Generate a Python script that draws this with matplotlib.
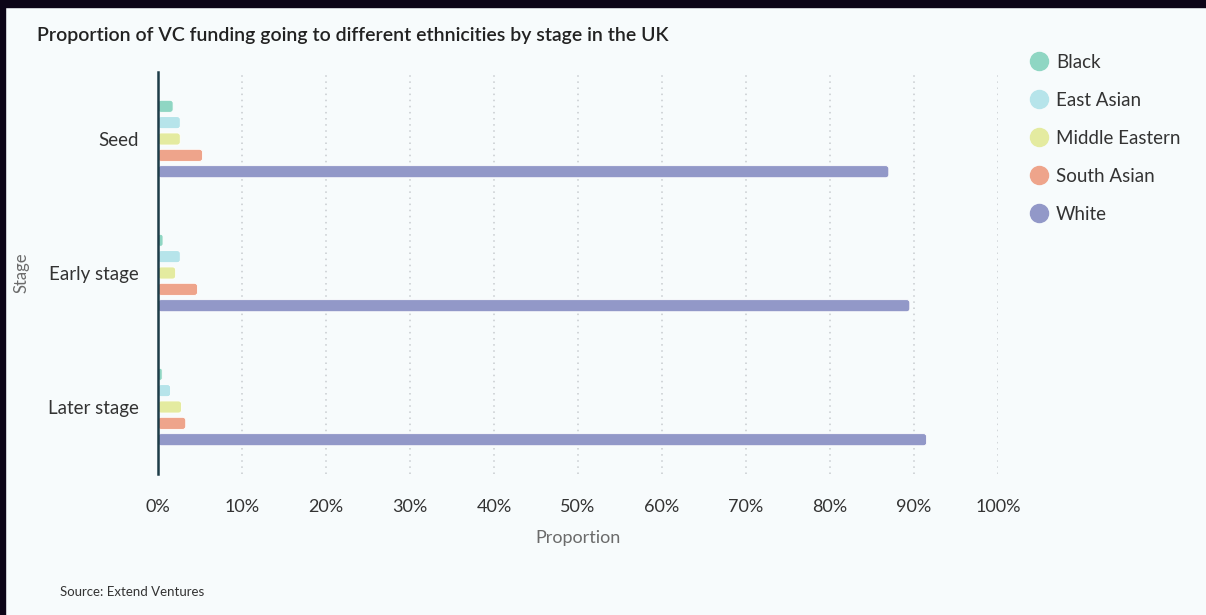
import matplotlib
matplotlib.use("Agg")
import matplotlib.pyplot as plt
from matplotlib.patches import FancyBboxPatch, Rectangle
from matplotlib.lines import Line2D
import numpy as np

# data (percent)
stages = ["Seed", "Early stage", "Later stage"]
groups = ["Black", "East Asian", "Middle Eastern", "South Asian", "White"]
black = [1.8, 0.6, 0.5]
east_asian = [2.65, 2.65, 1.5]
middle_eastern = [2.65, 2.1, 2.8]
south_asian = [5.3, 4.7, 3.3]
white = [87.0, 89.5, 91.5]
colors = ["#8fd6c3", "#b6e4ea", "#e4eba0", "#eea48b", "#9298c8"]

series = [black, east_asian, middle_eastern, south_asian, white]

bg = "#f7fbfc"
plt.rcParams["font.family"] = ["Lato", "DejaVu Sans"]

fig = plt.figure(figsize=(12.06, 6.15), dpi=100)
fig.patch.set_facecolor(bg)
ax = fig.add_axes([158 / 1206, 1 - 474 / 615, 840 / 1206, 402 / 615])
ax.set_facecolor(bg)

# dark frame around the panel (top and left)
fig.patches.append(Rectangle((0, 1 - 7 / 615), 1, 7 / 615, transform=fig.transFigure,
                             color="#0c0517", zorder=10))
fig.patches.append(Rectangle((0, 0), 5 / 1206, 1, transform=fig.transFigure,
                             color="#0c0517", zorder=10))

y = np.arange(len(stages))
step = 0.122
bar_h = 0.09
for i, (vals, c) in enumerate(zip(series, colors)):
    bars = ax.barh(y + (i - 2) * step, vals, height=bar_h, color=c, zorder=3)
    # swap for rounded bars
    for b in bars:
        b.set_visible(False)
        w = b.get_width()
        r = min(0.36, w / 2)
        fb = FancyBboxPatch((b.get_x(), b.get_y()), w, b.get_height(),
                            boxstyle=f"round,pad=0,rounding_size={r}",
                            mutation_aspect=0.06, facecolor=c,
                            edgecolor="white", linewidth=0.6, zorder=3)
        ax.add_patch(fb)

ax.set_xlim(0, 100)
ax.set_ylim(2.5, -0.5)
ax.set_xticks(np.arange(0, 101, 10))
ax.set_xticklabels([f"{v}%" for v in range(0, 101, 10)])
ax.set_yticks(y)
ax.set_yticklabels(stages)
ax.tick_params(axis="x", length=0, pad=18, labelsize=13, labelcolor="#333333")
ax.tick_params(axis="y", length=0, pad=14, labelsize=13.5, labelcolor="#333333")

for v in range(10, 101, 10):
    ax.axvline(v, color="#c8cccf", linestyle=(0, (1, 3)), linewidth=1.1, zorder=1)

for s in ["top", "right", "bottom"]:
    ax.spines[s].set_visible(False)
ax.spines["left"].set_color("#1d3c48")
ax.spines["left"].set_linewidth(1.8)
ax.spines["left"].set_zorder(5)

ax.set_xlabel("Proportion", fontsize=13, color="#6b6b6b", labelpad=11)
ax.set_ylabel("Stage", fontsize=12, color="#6b6b6b", labelpad=13)

handles = [Line2D([], [], marker="o", linestyle="none", markersize=13,
                  markerfacecolor=c, markeredgecolor=c) for c in colors]
fig.legend(handles, groups, loc="upper left", bbox_to_anchor=(1011 / 1206, 1 - 37 / 615),
           frameon=False, fontsize=13.5, labelspacing=1.12, handletextpad=0.3,
           handlelength=1.2, labelcolor="#333333")

fig.text(37 / 1206, 1 - 36 / 615, "Proportion of VC funding going to different ethnicities by stage in the UK",
         fontsize=14, fontweight="semibold", color="#222222", va="center")
fig.text(60 / 1206, 1 - 592 / 615, "Source: Extend Ventures", fontsize=9.5,
         color="#333333", va="center")

fig.savefig("out.png", dpi=100, facecolor=bg)
